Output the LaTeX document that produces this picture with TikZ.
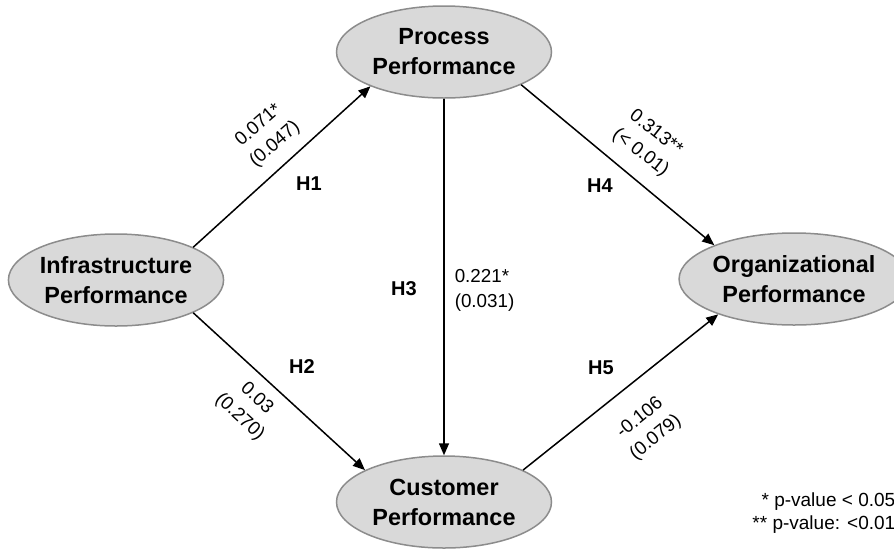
\documentclass[tikz,border=0pt]{standalone}
\usepackage{fontspec}
\setmainfont{Liberation Sans}
\usetikzlibrary{arrows.meta,shapes.geometric}
\definecolor{ellfill}{HTML}{D9D9D9}
\definecolor{ellline}{HTML}{8C8C8C}
\tikzset{
  lv/.style = {ellipse, draw=ellline, fill=ellfill, inner sep=0pt,
    minimum width=107.5pt, minimum height=46pt, align=center,
    font=\fontsize{11.7}{15}\selectfont\bfseries},
  hyp/.style = {inner sep=0pt, font=\fontsize{10}{12}\selectfont\bfseries},
  coef/.style = {align=center, inner sep=0pt,
    font=\fontsize{9.4}{12.5}\selectfont},
}

\begin{document}
\begin{tikzpicture}[x=0.5pt,y=-0.5pt,->,>={Triangle[length=6pt,width=5pt]},
    line width=0.75pt]
  \useasboundingbox (0,0) rectangle (894,548);
  \node [lv] (infra) at (116,280) {Infrastructure\\Performance};
  \node [lv] (proc) at (444,52) {Process\\Performance};
  \node [lv] (cust) at (444,502) {Customer\\Performance};
  \node [lv] (org) at (794,279) {Organizational\\Performance};

  \draw (infra.23) -- (proc.205);
  \draw (infra.-23) -- (cust.158);
  \draw (proc.south) -- (cust.north);
  \draw (proc.-23) -- (org.157);
  \draw (cust.22) -- (org.205);

  \node [hyp] (h1) at (309,184) {H1};
  \node [hyp] (h2) at (302,367) {H2};
  \node [hyp] (h3) at (404,289) {H3};
  \node [hyp] (h4) at (600,186) {H4};
  \node [hyp] (h5) at (601,368) {H5};

  \node [coef, rotate=41] (c1) at (267,135) {0.071*\\(0.047)};
  \node [coef, rotate=-43] (c2) at (248,408) {0.03\\(0.270)};
  \node [coef, align=left, anchor=west] (c3) at (454,290) {0.221*\\(0.031)};
  \node [coef, rotate=-38] (c4) at (648,143) {0.313**\\(< 0.01)};
  \node [coef, rotate=39] (c5) at (648,428) {-0.106\\(0.079)};

  \node [align=right, anchor=east, inner sep=0pt,
    font=\fontsize{9.5}{11.5}\selectfont] (note) at (896,513)
    {* p-value < 0.05\\** p-value: <0.01};
\end{tikzpicture}
\end{document}
